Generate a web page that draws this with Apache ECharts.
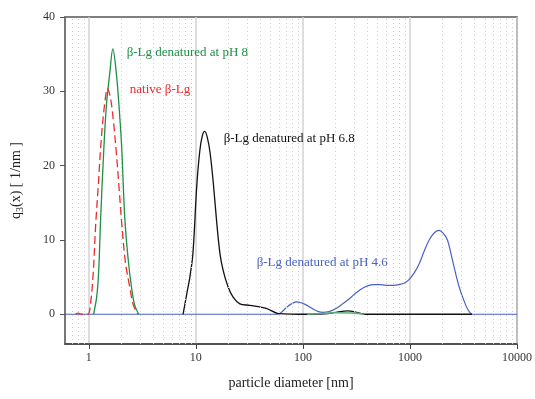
<!DOCTYPE html>
<html>
<head>
<meta charset="utf-8">
<script src="https://cdn.jsdelivr.net/npm/echarts@6/dist/echarts.min.js"></script>
<style>
  html, body { margin: 0; padding: 0; background: #fff; }
  #chart { width: 535px; height: 399px; }
</style>
</head>
<body>
<div id="chart"></div>
<script>
// particle size distributions, x in nm, y in 1/nm
const nativeX = [0.75, 0.8, 0.86, 0.98, 1.04, 1.10, 1.16, 1.23, 1.30, 1.40, 1.50, 1.60, 1.70, 1.81, 1.92, 2.02, 2.20, 2.42, 2.60, 2.87]
const nativeY = [0, 0.15, 0, 0, 1.5, 5.5, 12, 17.5, 23, 28, 30.4, 29, 26, 21.7, 17, 12.7, 7, 3.6, 1.3, 0]

const ph8X = [1.11, 1.19, 1.24, 1.29, 1.38, 1.46, 1.57, 1.68, 1.81, 1.92, 2.03, 2.17, 2.33, 2.51, 2.69, 2.93]
const ph8Y = [0, 2.5, 6, 12.7, 22, 28, 32.4, 35.7, 32.4, 27.9, 22.5, 13, 7.5, 3.6, 1.2, 0]
const ph8TailX = [110, 150, 200, 300, 370]
const ph8TailY = [0, 0.1, 0.2, 0.15, 0]

const ph68X = [7.6, 8.3, 8.8, 9.4, 10.2, 10.9, 11.5, 12.1, 12.8, 13.6, 14.6, 15.6, 16.8, 18.0, 20.0, 22.3, 25.8, 32, 46, 59, 110, 160, 210, 260, 300, 350, 390, 3800]
const ph68Y = [0, 3, 5, 8.2, 17.2, 22, 24, 24.6, 23.8, 21.7, 17.5, 12.7, 8.2, 5.9, 3.7, 2.3, 1.4, 1.2, 0.77, 0.1, 0, 0.05, 0.3, 0.45, 0.35, 0.1, 0, 0]

const ph46X = [0.6, 58, 64, 70, 78, 87, 96, 106, 118, 128, 140, 153, 175, 204, 235, 272, 315, 361, 448, 520, 597, 700, 795, 890, 985, 1100, 1221, 1360, 1513, 1700, 1876, 2050, 2240, 2495, 2879, 3325, 3600, 3832, 10000]
const ph46Y = [0, 0, 0.35, 0.9, 1.4, 1.66, 1.55, 1.3, 0.9, 0.6, 0.35, 0.25, 0.35, 0.77, 1.4, 2.1, 2.9, 3.5, 4.0, 4.0, 3.9, 3.9, 4.0, 4.2, 4.7, 5.6, 6.8, 8.5, 10.0, 11.0, 11.3, 10.9, 10, 7.3, 3.7, 1.2, 0.3, 0, 0]

const xTicks = [1, 10, 100, 1000, 10000]
const yTicks = [0, 10, 20, 30, 40]

const FONT = 'Liberation Serif'
const RED = '#ee2b2b'
const GREEN = '#1f8f44'
const BLACK = '#111111'
const BLUE = '#4a62c4'

const pairs = (xs, ys) => xs.map((x, i) => [x, ys[i]])

// dotted minor grid at 2..9 of each decade (and 0.7..0.9)
const minorLines = []
;[0.1, 1, 10, 100, 1000].forEach(d => {
  for (let k = 2; k <= 9; k++) {
    const v = +(k * d).toPrecision(3)
    if (v > 0.6) minorLines.push({ xAxis: v })
  }
})

function label(text, coord, color) {
  return {
    symbol: 'circle',
    symbolSize: 0,
    silent: true,
    data: [{ coord }],
    label: {
      show: true,
      position: 'right',
      distance: 0,
      formatter: text,
      color,
      fontFamily: FONT,
      fontSize: 13,
    },
  }
}

function line(name, data, color, width, z, extra) {
  return Object.assign({
    name,
    type: 'line',
    data,
    showSymbol: false,
    smooth: 0.35,
    z,
    lineStyle: { color, width },
    itemStyle: { color },
  }, extra || {})
}

const chart = echarts.init(document.getElementById('chart'), null, { renderer: 'canvas' })

chart.setOption({
  animation: false,
  backgroundColor: '#fff',
  grid: {
    left: 65, right: 17, top: 17, bottom: 55,
    show: true,
    borderColor: '#555',
    borderWidth: 1.5,
  },
  xAxis: {
    type: 'log',
    logBase: 10,
    min: 0.6,
    max: 10000,
    name: 'particle diameter [nm]',
    nameLocation: 'middle',
    nameGap: 32,
    nameTextStyle: { fontFamily: FONT, fontSize: 14, color: '#222' },
    axisLine: { show: true, onZero: false, lineStyle: { color: '#444', width: 1.5 } },
    axisTick: { show: true, customValues: xTicks, length: 5, lineStyle: { color: '#444' } },
    axisLabel: {
      customValues: xTicks,
      fontFamily: FONT, fontSize: 12, color: '#333', margin: 8,
      formatter: v => String(v),
    },
    splitLine: { show: true, lineStyle: { color: '#d2d2d2', width: 1.5 } },
  },
  yAxis: {
    type: 'value',
    min: -4,
    max: 40,
    name: '{a|q}{s|3}{a|(x) [ 1/nm ]}',
    nameLocation: 'middle',
    nameGap: 40,
    nameTextStyle: {
      fontFamily: FONT, fontSize: 14, color: '#222',
      rich: {
        a: { fontFamily: FONT, fontSize: 14, color: '#222' },
        s: { fontFamily: FONT, fontSize: 10, color: '#222', padding: [7, 0, 0, 0] },
      },
    },
    axisLine: { show: true, lineStyle: { color: '#777', width: 2 } },
    axisTick: { show: true, customValues: yTicks, length: 5, lineStyle: { color: '#555' } },
    axisLabel: { customValues: yTicks, fontFamily: FONT, fontSize: 12, color: '#333', margin: 10 },
    splitLine: { show: false },
  },
  series: [
    {
      name: 'grid',
      type: 'line',
      data: [],
      z: 1,
      markLine: {
        silent: true,
        symbol: 'none',
        label: { show: false },
        lineStyle: { color: '#cdcdcd', width: 1, type: [1, 3] },
        data: minorLines,
      },
    },
    line('β-Lg denatured at pH 4.6', pairs(ph46X, ph46Y), BLUE, 1.2, 2, {
      markPoint: label('β-Lg denatured at pH 4.6', [37, 6.9], BLUE),
    }),
    line('β-Lg denatured at pH 6.8', pairs(ph68X, ph68Y), BLACK, 1.3, 3, {
      markPoint: label('β-Lg denatured at pH 6.8', [18.2, 23.7], BLACK),
    }),
    line('β-Lg denatured at pH 8 (tail)', pairs(ph8TailX, ph8TailY), '#5bb078', 1.6, 4),
    line('β-Lg denatured at pH 8', pairs(ph8X, ph8Y), GREEN, 1.3, 5, {
      markPoint: label('β-Lg denatured at pH 8', [2.26, 35.2], GREEN),
    }),
    line('native β-Lg', pairs(nativeX, nativeY), RED, 1.3, 6, {
      lineStyle: { color: RED, width: 1.3, type: [8, 4] },
      markPoint: label('native β-Lg', [2.42, 30.3], RED),
    }),
  ],
})
</script>
</body>
</html>
